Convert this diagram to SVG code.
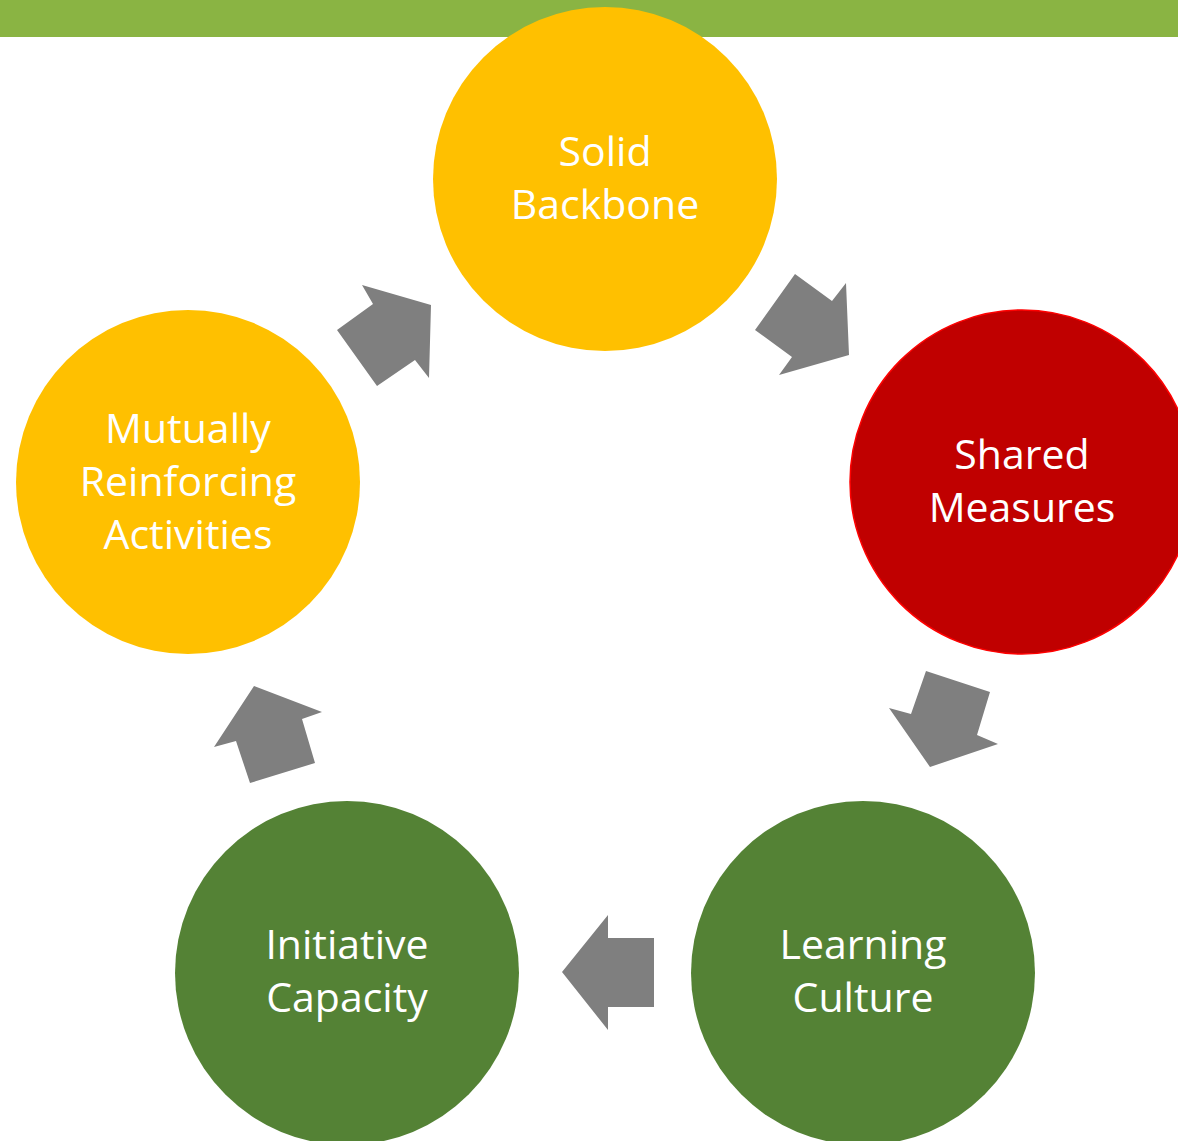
<svg xmlns="http://www.w3.org/2000/svg" width="1178" height="1141" viewBox="0 0 1178 1141">
<style>
.lbl{font-family:"Open Sans","Liberation Sans",sans-serif;font-size:41px;fill:#ffffff;text-anchor:middle}
.arr{fill:#7f7f7f}
</style>
<rect x="0" y="0" width="1178" height="37" fill="#8ab443"/>
<g id="connectors">
<polygon class="arr" points="337,330 373,304 362,285 431,305 429,378 415,360 377,386"/>
<polygon class="arr" points="795,274 832,301 846,283 849,355 779,375 792,357 755,330"/>
<polygon class="arr" points="926,671 990,692 977,735 998,744 930,767 889,708 911,714"/>
<polygon class="arr" points="254,686 322,712 302,719 315,763 250,783 236,741 214,747"/>
<polygon class="arr" points="608,915 608,938 654,938 654,1007 608,1007 608,1030 562,972"/>
</g>
<g id="solid-backbone">
<circle cx="605" cy="179" r="172" fill="#ffc000"/>
<text class="lbl" x="605" y="166">Solid</text>
<text class="lbl" x="605" y="219">Backbone</text>
</g>
<g id="shared-measures">
<circle cx="1022" cy="482" r="172" fill="#c00000" stroke="#ff0000" stroke-width="1.5"/>
<text class="lbl" x="1022" y="469">Shared</text>
<text class="lbl" x="1022" y="522">Measures</text>
</g>
<g id="learning-culture">
<circle cx="863" cy="973" r="172" fill="#548235"/>
<text class="lbl" x="863" y="959">Learning</text>
<text class="lbl" x="863" y="1012">Culture</text>
</g>
<g id="initiative-capacity">
<circle cx="347" cy="973" r="172" fill="#548235"/>
<text class="lbl" x="347" y="959">Initiative</text>
<text class="lbl" x="347" y="1012">Capacity</text>
</g>
<g id="mutually-reinforcing-activities">
<circle cx="188" cy="482" r="172" fill="#ffc000"/>
<text class="lbl" x="188" y="443">Mutually</text>
<text class="lbl" x="188" y="496">Reinforcing</text>
<text class="lbl" x="188" y="549">Activities</text>
</g>
</svg>
